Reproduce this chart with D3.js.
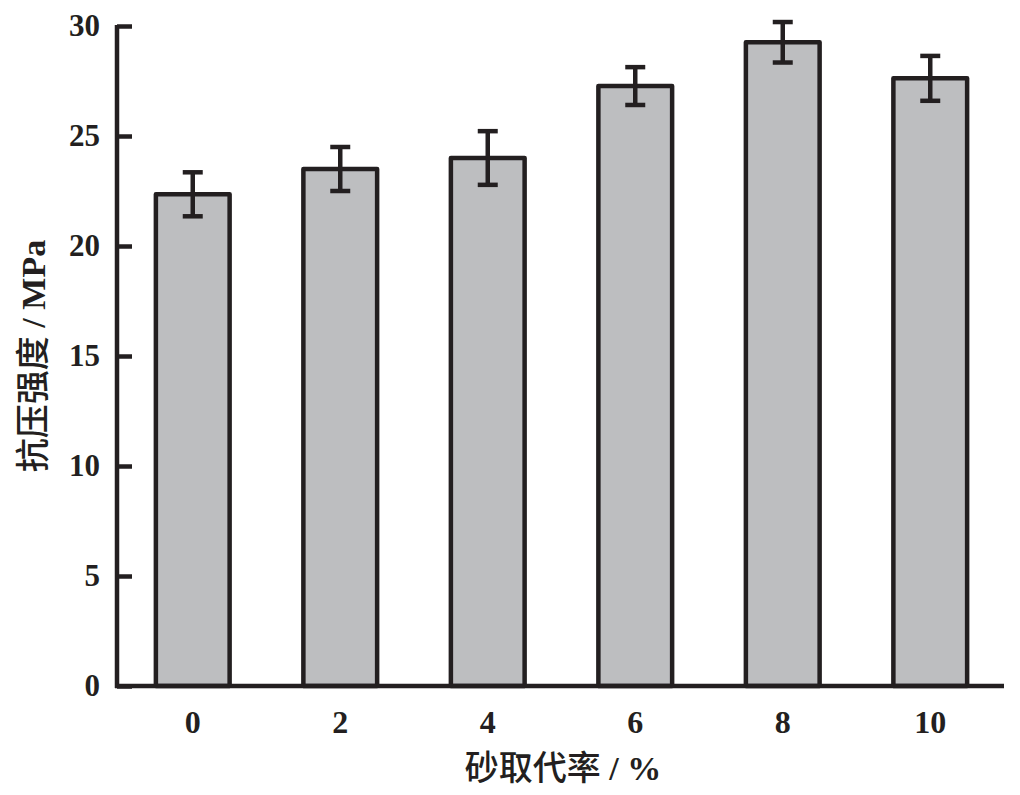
<!DOCTYPE html>
<html><head><meta charset="utf-8">
<script src="https://cdn.jsdelivr.net/npm/d3@7"></script>
<style>body{margin:0;background:#fff}svg{display:block}</style>
</head><body>
<svg id="chart" width="1020" height="795"></svg>
<script>
const categories = ["0","2","4","6","8","10"];
const strength = [22.35, 23.5, 24.0, 27.27, 29.26, 27.62];
const errors = [1.0, 1.0, 1.22, 0.86, 0.92, 1.02];
const yTicks = [0,5,10,15,20,25,30];
const xTitleCJK = "砂取代率", xTitleUnit = " / %";
const yTitleCJK = "抗压强度", yTitleUnit = " / MPa";

const svg = d3.select("#chart");
const mLeft = 117, mRight = 1004, mTop = 26, mBottom = 686;
const font = "'Liberation Serif','Times New Roman','Noto Sans CJK SC',serif";
const ink = "#231f20";

const x = d3.scaleBand().domain(categories).range([mLeft+2, mRight]).paddingInner(0.5).paddingOuter(0.25);
const y = d3.scaleLinear().domain([0,30]).range([mBottom, mTop]);

const data = categories.map((c,i)=>({c, v:strength[i], e:errors[i]}));

// bars
svg.append("g").selectAll("rect").data(data).join("rect")
  .attr("x", d=>x(d.c)).attr("width", x.bandwidth())
  .attr("y", d=>y(d.v)).attr("height", d=>y(0)-y(d.v))
  .attr("fill","#bdbec0").attr("stroke",ink).attr("stroke-width",4.5)
  .attr("stroke-linejoin","round");

// error bars
const eg = svg.append("g").attr("stroke",ink).attr("stroke-width",4.5);
data.forEach(d=>{
  const cx = x(d.c)+x.bandwidth()/2;
  eg.append("line").attr("x1",cx).attr("x2",cx).attr("y1",y(d.v+d.e)).attr("y2",y(d.v-d.e));
  eg.append("line").attr("x1",cx-10).attr("x2",cx+10).attr("y1",y(d.v+d.e)).attr("y2",y(d.v+d.e));
  eg.append("line").attr("x1",cx-10).attr("x2",cx+10).attr("y1",y(d.v-d.e)).attr("y2",y(d.v-d.e));
});

// y axis
const yAxis = d3.axisLeft(y).tickValues(yTicks).tickSize(-15).tickPadding(17).tickSizeOuter(0);
const ya = svg.append("g").attr("transform",`translate(${mLeft},0)`).call(yAxis);
ya.select(".domain").attr("stroke",ink).attr("stroke-width",4.5).attr("d",`M0,${mTop-1}V${mBottom+2}`);
ya.selectAll(".tick line").attr("stroke",ink).attr("stroke-width",4.5);
ya.selectAll(".tick text").attr("font-family",font).attr("font-size",31).attr("font-weight","bold").attr("fill",ink);

// x axis
const xAxis = d3.axisBottom(x).tickSize(0).tickPadding(24);
const xa = svg.append("g").attr("transform",`translate(0,${mBottom})`).call(xAxis);
xa.select(".domain").attr("stroke",ink).attr("stroke-width",4.5).attr("d",`M${mLeft-2},0H${mRight}`);
xa.selectAll(".tick text").attr("font-family",font).attr("font-size",32).attr("font-weight","bold").attr("fill",ink);

// titles
const xt = svg.append("text").attr("x",563).attr("y",780).attr("text-anchor","middle")
  .attr("font-family",font).attr("font-size",34).attr("fill",ink);
xt.append("tspan").attr("font-weight","500").text(xTitleCJK);
xt.append("tspan").attr("font-weight","bold").text(xTitleUnit);
const yt = svg.append("text").attr("transform","translate(45,356) rotate(-90)").attr("text-anchor","middle")
  .attr("font-family",font).attr("font-size",34).attr("fill",ink);
yt.append("tspan").attr("font-weight","500").text(yTitleCJK);
yt.append("tspan").attr("font-weight","bold").text(yTitleUnit);
</script>
</body></html>
